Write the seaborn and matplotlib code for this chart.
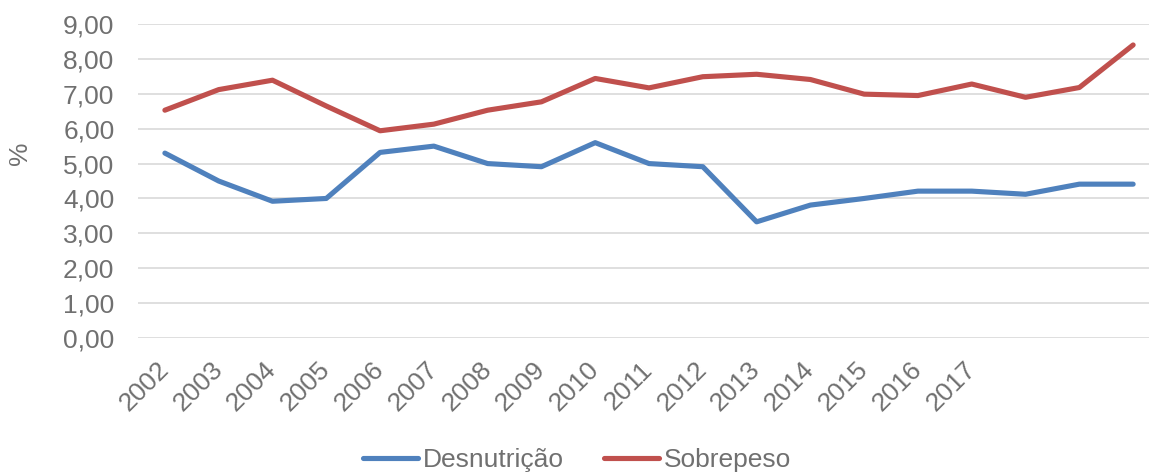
import pandas as pd
import seaborn as sns
import matplotlib.pyplot as plt

# series values (one point per category, 19 points)
desnutricao = [5.3, 4.5, 3.92, 4.0, 5.32, 5.5, 5.0, 4.91, 5.6, 5.0, 4.91, 3.33,
               3.81, 4.0, 4.21, 4.21, 4.12, 4.41, 4.41]
sobrepeso = [6.53, 7.12, 7.39, 6.65, 5.94, 6.13, 6.53, 6.77, 7.44, 7.17, 7.49, 7.56,
             7.41, 6.99, 6.95, 7.28, 6.9, 7.18, 8.4]
# only the first 16 categories carry a label in the original
year_labels = ['2002', '2003', '2004', '2005', '2006', '2007', '2008', '2009',
               '2010', '2011', '2012', '2013', '2014', '2015', '2016', '2017']
series_names = ['Desnutrição', 'Sobrepeso']
colors = ['#4F81BD', '#C0504D']
text_color = '#707070'


def main():
    n = len(desnutricao)
    df = pd.DataFrame({
        'idx': list(range(n)) * 2,
        'valor': desnutricao + sobrepeso,
        'serie': [series_names[0]] * n + [series_names[1]] * n,
    })

    sns.set_style('white')
    plt.rcParams['font.family'] = ['Liberation Sans', 'DejaVu Sans']

    fig = plt.figure(figsize=(11.49, 4.73), dpi=100)
    ax = fig.add_axes([0.1201, 0.2854, 0.8895, 0.6638])

    sns.lineplot(data=df, x='idx', y='valor', hue='serie', palette=colors,
                 linewidth=3.7, ax=ax, legend=True)
    for line in ax.get_lines():
        line.set_solid_capstyle('round')
        line.set_solid_joinstyle('round')

    ax.set_xlim(-0.5, n - 0.5)
    ax.set_ylim(0, 9)
    ax.set_yticks(range(0, 10))
    ax.set_yticklabels([f'{v},00' for v in range(0, 10)])
    ax.set_xticks(range(len(year_labels)))
    ax.set_xticklabels(year_labels, rotation=45, ha='right', va='center',
                       rotation_mode='anchor')

    ax.grid(axis='y', color='#D9D9D9', linewidth=1.2)
    ax.set_axisbelow(True)
    for s in ax.spines.values():
        s.set_visible(False)
    ax.tick_params(axis='both', length=0, labelsize=19, colors=text_color)
    ax.tick_params(axis='y', pad=17)
    ax.tick_params(axis='x', pad=20)
    ax.set_xlabel('')
    ax.set_ylabel('')

    fig.text(20 / 1149, 1 - 153 / 473, '%', rotation=90, fontsize=19,
             color=text_color, ha='center', va='center')

    handles, labels = ax.get_legend_handles_labels()
    ax.legend(handles, labels, loc='center', bbox_to_anchor=(577 / 1149, 1 - 460 / 473),
              bbox_transform=fig.transFigure, ncol=2, frameon=False, fontsize=19,
              handlelength=2.08, handletextpad=0.19, columnspacing=1.52,
              labelcolor=text_color, borderaxespad=0, borderpad=0)
    for h in ax.get_legend().get_lines():
        h.set_linewidth(3.7)
        h.set_solid_capstyle('round')

    plt.savefig('out.png', dpi=100)


if __name__ == '__main__':
    main()
